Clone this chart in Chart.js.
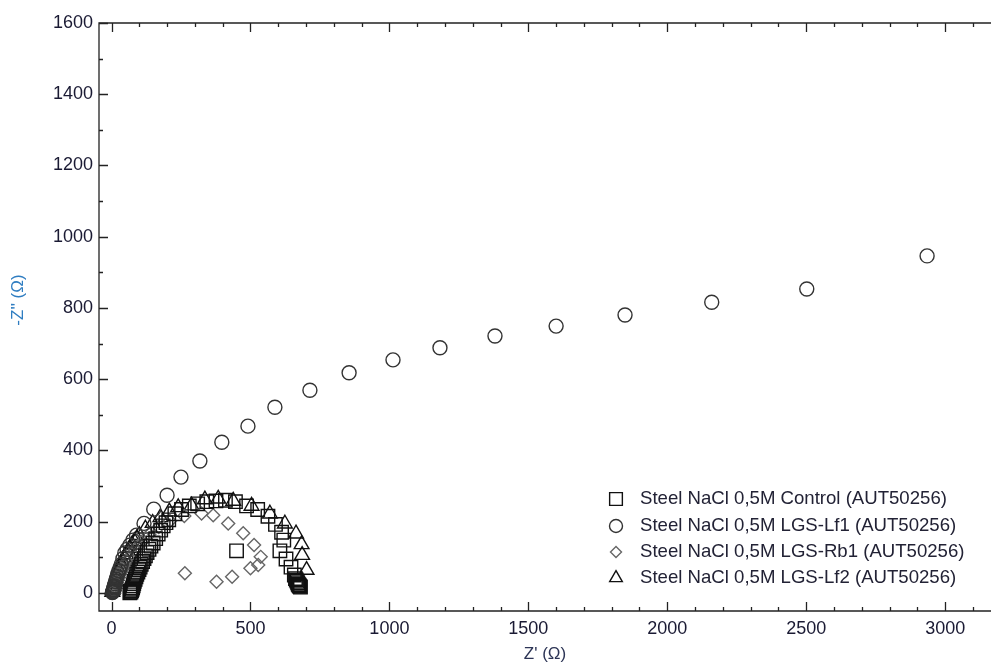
<!DOCTYPE html>
<html>
<head>
<meta charset="utf-8">
<script src="https://cdn.jsdelivr.net/npm/chart.js@4.4.0/dist/chart.umd.min.js"></script>
<style>
    html, body { margin: 0; padding: 0; background: #fff; overflow: hidden; }
    #wrap { position: relative; width: 991px; height: 666px; }
</style>
</head>
<body>
<div id="wrap"><canvas id="nyquist"></canvas></div>
<script>
// Nyquist data, [Z' , -Z''] in ohm
const seriesNames = [
    'Steel NaCl 0,5M Control (AUT50256)',
    'Steel NaCl 0,5M LGS-Lf1 (AUT50256)',
    'Steel NaCl 0,5M LGS-Rb1 (AUT50256)',
    'Steel NaCl 0,5M LGS-Lf2 (AUT50256)'
];

const controlPts = [
    [66, 0], [68, 4], [70, 2], [72, 6], [74, 10], [76, 14], [78, 20], [80, 26], [82, 32],
    [85, 38], [88, 45], [91, 52], [95, 58], [99, 65], [103, 72], [107, 80], [112, 88],
    [117, 96], [122, 104], [128, 113], [135, 122], [142, 131], [150, 140], [159, 152],
    [168, 165], [177, 176], [186, 188], [196, 197], [206, 205], [228, 222],
    [252, 234], [280, 244], [310, 250], [343, 256], [376, 258], [410, 260], [446, 256],
    [486, 244], [526, 234], [563, 215], [590, 192], [612, 170], [620, 148], [606, 118],
    [628, 95], [646, 72], [658, 50], [662, 40], [665, 36], [668, 32], [670, 28],
    [672, 24], [674, 22], [676, 20], [678, 18], [680, 16], [450, 118]
];

const lf1Pts = [
    [3, 1], [4, 2], [5, 3], [6, 5], [7, 8], [8, 10], [9, 14], [10, 17], [11, 20],
    [13, 26], [15, 32], [17, 38], [20, 46], [23, 54], [27, 62], [31, 70], [35, 80],
    [41, 96], [48, 112], [56, 122], [66, 134], [77, 148], [90, 162], [117, 195],
    [152, 235], [200, 274], [250, 325], [318, 370],
    [397, 423], [491, 468], [588, 521], [714, 569], [855, 618], [1013, 654], [1182, 688],
    [1380, 721], [1600, 749], [1848, 780], [2160, 816], [2502, 853], [2935, 946]
];

const rb1Pts = [
    [2, 1], [4, 4], [6, 8], [8, 13], [11, 18], [14, 24], [17, 30], [21, 37], [25, 44],
    [30, 52], [35, 60], [41, 69], [48, 78], [56, 88], [64, 98], [74, 109],
    [84, 120], [96, 131], [108, 142], [122, 153], [136, 164], [170, 185], [210, 202],
    [262, 216], [324, 223], [366, 218], [420, 195], [474, 167], [513, 134], [537, 101],
    [528, 78], [500, 69], [434, 45], [378, 31], [264, 55]
];

const lf2Pts = [
    [3, 2], [4, 7], [6, 12], [8, 18], [10, 25], [12, 32], [15, 40], [18, 47], [22, 55],
    [26, 63], [30, 72], [35, 81], [40, 90], [46, 99], [52, 108], [59, 117],
    [66, 126], [74, 135], [82, 145], [91, 153], [100, 162], [122, 180], [148, 196],
    [176, 212], [208, 228], [240, 240], [288, 245], [336, 262], [384, 264], [438, 258],
    [504, 244], [570, 222], [624, 194], [664, 166], [684, 136], [686, 106], [702, 64]
];

const xTicks = [0, 500, 1000, 1500, 2000, 2500, 3000];
const yTicks = [0, 200, 400, 600, 800, 1000, 1200, 1400, 1600];
const minorStep = 100;

const toXY = pts => pts.map(p => ({ x: p[0], y: p[1] }));

const styles = [
    { pointStyle: 'rect', radius: 9.5, color: '#111', legendRadius: 9 },
    { pointStyle: 'circle', radius: 7, color: '#333', legendRadius: 6.5 },
    { pointStyle: 'rectRot', radius: 6.5, color: '#666', legendRadius: 5.5 },
    { pointStyle: 'triangle', radius: 8.5, color: '#111', legendRadius: 7.3 }
];
const allPts = [controlPts, lf1Pts, rb1Pts, lf2Pts];

const datasets = allPts.map((pts, i) => ({
    label: seriesNames[i],
    data: toXY(pts),
    showLine: false,
    pointStyle: styles[i].pointStyle,
    pointRadius: styles[i].radius,
    pointHoverRadius: styles[i].radius,
    pointBorderWidth: 1.4,
    pointBorderColor: styles[i].color,
    pointBackgroundColor: 'rgba(255,255,255,0)'
}));

// frame with inside major / minor ticks, like the original plot
const frameTicks = {
    id: 'frameTicks',
    beforeDatasetsDraw(chart) {
        const { ctx, chartArea: a, scales: { x, y } } = chart;
        ctx.save();
        ctx.strokeStyle = '#222';
        ctx.lineWidth = 1.3;
        ctx.beginPath();
        ctx.moveTo(a.right + 2, a.top);
        ctx.lineTo(a.left, a.top);
        ctx.lineTo(a.left, a.bottom);
        ctx.lineTo(a.right + 2, a.bottom);
        ctx.stroke();
        ctx.beginPath();
        for (let v = 0; v <= x.max; v += minorStep) {
            const px = Math.round(x.getPixelForValue(v)) + 0.5;
            const len = xTicks.includes(v) ? 9 : 4;
            ctx.moveTo(px, a.bottom); ctx.lineTo(px, a.bottom - len);
            ctx.moveTo(px, a.top); ctx.lineTo(px, a.top + len);
        }
        for (let v = 0; v <= y.max; v += minorStep) {
            const py = Math.round(y.getPixelForValue(v)) + 0.5;
            const len = yTicks.includes(v) ? 9 : 4;
            ctx.moveTo(a.left, py); ctx.lineTo(a.left + len, py);
        }
        ctx.stroke();

        // y axis title, placed a little above the middle as in the original
        ctx.translate(18, 300);
        ctx.rotate(-Math.PI / 2);
        ctx.font = '17px "Liberation Sans", Arial, sans-serif';
        ctx.fillStyle = '#2f7dc1';
        ctx.textAlign = 'center';
        ctx.textBaseline = 'middle';
        ctx.fillText("-Z'' (Ω)", 0, 0);
        ctx.restore();
    }
};

// legend drawn inside the plot, bottom right
const insideLegend = {
    id: 'insideLegend',
    afterDraw(chart) {
        const { ctx } = chart;
        const markX = 616;
        const textX = 640;
        const rowY = [499, 526, 552, 578];
        ctx.save();
        ctx.font = '18.6px "Liberation Sans", Arial, sans-serif';
        ctx.textBaseline = 'middle';
        seriesNames.forEach((name, i) => {
            ctx.strokeStyle = styles[i].color;
            ctx.fillStyle = '#fff';
            ctx.lineWidth = 1.4;
            Chart.helpers.drawPoint(ctx, {
                pointStyle: styles[i].pointStyle,
                radius: styles[i].legendRadius,
                borderWidth: 1.4
            }, markX, rowY[i]);
            ctx.fillStyle = '#222235';
            ctx.fillText(name, textX, rowY[i]);
        });
        ctx.restore();
    }
};

const tickFont = { family: '"Liberation Sans", Arial, sans-serif', size: 18 };
const titleFont = { family: '"Liberation Sans", Arial, sans-serif', size: 17 };

new Chart(document.getElementById('nyquist'), {
    type: 'scatter',
    data: { datasets: datasets },
    plugins: [frameTicks, insideLegend],
    options: {
        responsive: true,
        maintainAspectRatio: false,
        animation: false,
        layout: { autoPadding: false, padding: { left: 0, top: 23, right: 0, bottom: 0 } },
        plugins: {
            legend: { display: false },
            tooltip: { enabled: false }
        },
        scales: {
            x: {
                type: 'linear',
                min: -45,
                max: 3165,
                grid: { display: false, drawTicks: false },
                border: { display: false },
                afterFit: scale => { scale.height = 55; },
                afterBuildTicks: scale => { scale.ticks = xTicks.map(v => ({ value: v })); },
                ticks: {
                    padding: 7,
                    color: '#1a1a33',
                    font: tickFont,
                    callback: v => String(v)
                },
                title: {
                    display: true,
                    text: "Z' (Ω)",
                    color: '#2d3556',
                    font: titleFont,
                    padding: { top: 0, bottom: 1 }
                }
            },
            y: {
                type: 'linear',
                min: -51,
                max: 1600,
                grid: { display: false, drawTicks: false },
                border: { display: false },
                afterFit: scale => { scale.width = 99; },
                afterBuildTicks: scale => { scale.ticks = yTicks.map(v => ({ value: v })); },
                ticks: {
                    padding: 6,
                    color: '#1a1a33',
                    font: tickFont,
                    callback: v => String(v)
                },
                title: { display: false }
            }
        }
    }
});
</script>
</body>
</html>
